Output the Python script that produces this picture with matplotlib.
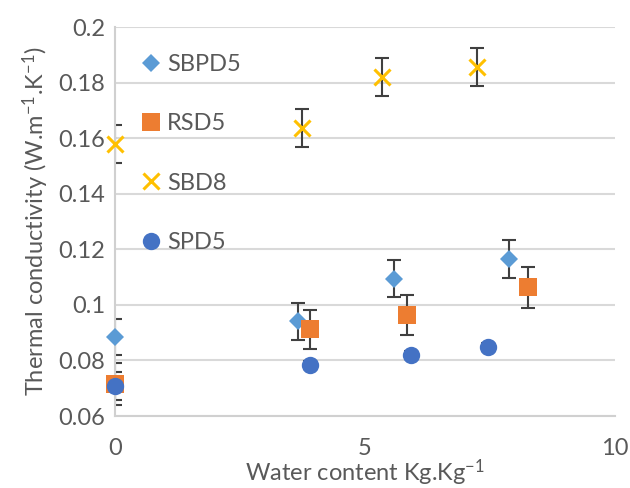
import numpy as np
import matplotlib.pyplot as plt

plt.rcParams['font.family'] = ['Lato', 'DejaVu Sans']
plt.rcParams['mathtext.fontset'] = 'custom'
plt.rcParams['mathtext.rm'] = 'Lato'
plt.rcParams['mathtext.it'] = 'Lato'

# data
sbpd5_x = [0.0, 3.66, 5.58, 7.88]
sbpd5_y = [0.0884, 0.0941, 0.1095, 0.1164]
sbpd5_err = [0.0066, 0.0066, 0.0066, 0.0068]

rsd5_x = [0.0, 3.90, 5.84, 8.27]
rsd5_y = [0.0715, 0.0912, 0.0963, 0.1063]
rsd5_err = [0.0075, 0.0070, 0.0073, 0.0074]

sbd8_x = [0.0, 3.74, 5.34, 7.24]
sbd8_y = [0.158, 0.1637, 0.182, 0.1856]
sbd8_err = [0.0068, 0.0068, 0.0068, 0.0068]

spd5_x = [0.0, 3.90, 5.93, 7.46]
spd5_y = [0.0708, 0.0783, 0.0819, 0.0848]
spd5_err = [0.0050, 0.0015, 0.0015, 0.0015]

series = [
    ("SBPD5", sbpd5_x, sbpd5_y, sbpd5_err, "D", "#5B9BD5", 9.5),
    ("RSD5", rsd5_x, rsd5_y, rsd5_err, "s", "#ED7D31", 13),
    ("SBD8", sbd8_x, sbd8_y, sbd8_err, "x", "#FFC000", 11.5),
    ("SPD5", spd5_x, spd5_y, spd5_err, "o", "#4472C4", 12.5),
]

text_color = "#595959"

fig = plt.figure(figsize=(6.3, 4.88), dpi=100)
ax = fig.add_axes([0.1825, 0.1475, 0.7935, 0.797])

for name, xs, ys, errs, mk, col, ms in series:
    ax.errorbar(xs, ys, yerr=errs, fmt="none", ecolor="#404040",
                elinewidth=1.5, capsize=5, capthick=1.5, zorder=2)
for name, xs, ys, errs, mk, col, ms in series:
    mew = 2.2 if mk == "x" else 0
    ax.plot(xs, ys, linestyle="none", marker=mk, color=col, ms=ms,
            mew=mew, label=name, clip_on=False, zorder=3)

ax.set_xlim(0, 10)
ax.set_ylim(0.06, 0.2)
ax.set_xticks([0, 5, 10])
ax.set_yticks([0.06, 0.08, 0.1, 0.12, 0.14, 0.16, 0.18, 0.2])
ax.set_yticklabels(["0.06", "0.08", "0.1", "0.12", "0.14", "0.16", "0.18", "0.2"])
ax.tick_params(length=0, labelsize=17, colors=text_color, pad=7)
ax.tick_params(axis="x", pad=16)
ax.grid(axis="y", color="#d9d9d9", linewidth=1.5)
ax.set_axisbelow(True)
for s in ["top", "right"]:
    ax.spines[s].set_visible(False)
for s in ["left", "bottom"]:
    ax.spines[s].set_color("#d0d0d0")
    ax.spines[s].set_linewidth(1.5)

ax.set_xlabel(r"Water content Kg.Kg$^{-1}$", fontsize=17, color=text_color, labelpad=-1)
ax.set_ylabel(r"Thermal conductivity (W.m$^{-1}$.K$^{-1}$)", fontsize=17,
              color=text_color, labelpad=5)

leg = ax.legend(loc="upper left", bbox_to_anchor=(0.01, 0.985), frameon=False,
                fontsize=17, labelspacing=1.62, handlelength=0.8,
                handletextpad=0.3, labelcolor=text_color)

fig.savefig("out.png", dpi=100)
